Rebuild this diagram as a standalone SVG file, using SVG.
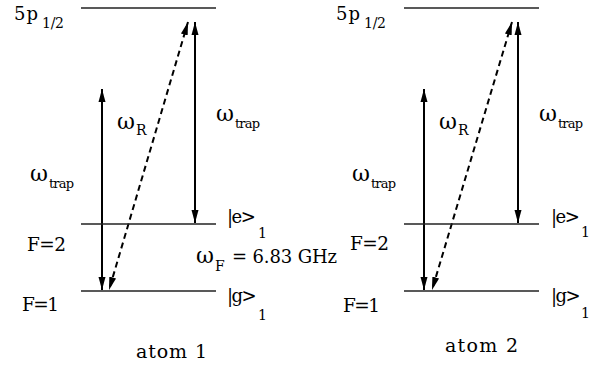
<svg xmlns="http://www.w3.org/2000/svg" width="603" height="366" viewBox="0 0 603 366" font-family="DejaVu Serif, serif">
<style>
text{font-family:"DejaVu Serif",serif;fill:#000}
.w{font-size:22px}
.s{font-size:13px}
.b{font-size:18.5px}
.k{font-size:18px;letter-spacing:-1.5px}
.n{font-size:14px}
.lvl{stroke:#222;stroke-width:1.5;fill:none}
.ar{stroke:#000;stroke-width:2;fill:none}
.da{stroke:#000;stroke-width:2;fill:none;stroke-dasharray:6,4}
</style>
<defs>
<marker id="h" markerUnits="userSpaceOnUse" markerWidth="14" markerHeight="10" viewBox="0 0 14 10" refX="13" refY="5" orient="auto-start-reverse">
<path d="M0,1.5 L13,5 L0,8.5 Z" fill="#000"/>
</marker>
</defs>
<g id="connectors">
<line class="ar" x1="102" y1="89" x2="102" y2="290" marker-start="url(#h)" marker-end="url(#h)"/>
<line class="ar" x1="195" y1="22" x2="195" y2="223" marker-start="url(#h)" marker-end="url(#h)"/>
<line class="da" x1="188" y1="22" x2="109" y2="290" marker-start="url(#h)" marker-end="url(#h)"/>
<line class="ar" x1="424" y1="89" x2="424" y2="290" marker-start="url(#h)" marker-end="url(#h)"/>
<line class="ar" x1="518" y1="22" x2="518" y2="223" marker-start="url(#h)" marker-end="url(#h)"/>
<line class="da" x1="512" y1="22" x2="432" y2="290" marker-start="url(#h)" marker-end="url(#h)"/>
</g>
<g id="atom1">
<line class="lvl" x1="81" y1="8" x2="216" y2="8"/>
<line class="lvl" x1="81" y1="224" x2="216" y2="224"/>
<line class="lvl" x1="81" y1="291" x2="216" y2="291"/>
<text x="14" y="20" font-size="18" textLength="24">5p</text>
<text x="42" y="28" class="n" textLength="22">1/2</text>
<text class="w" x="117" y="129">ω<tspan class="n" dx="1" dy="6">R</tspan></text>
<text class="w" x="216" y="121">ω<tspan class="s" dx="1" dy="7" textLength="25">trap</tspan></text>
<text class="w" x="30" y="181">ω<tspan class="s" dx="1" dy="7" textLength="25">trap</tspan></text>
<text class="b" x="27" y="251" textLength="39">F=2</text>
<text class="b" x="22" y="311" textLength="37">F=1</text>
<text class="k" x="227" y="223">|e&gt;</text><text class="n" x="258" y="238">1</text>
<text class="k" x="227" y="302">|g&gt;</text><text class="n" x="258" y="320">1</text>
<text class="w" x="196" y="263">ω<tspan class="n" dx="1" dy="8">F</tspan></text>
<text x="232" y="263" font-size="18" textLength="105">= 6.83 GHz</text>
<text x="136" y="358" font-size="19" textLength="71">atom 1</text>
</g>
<g id="atom2">
<line class="lvl" x1="404" y1="8" x2="539" y2="8"/>
<line class="lvl" x1="404" y1="224" x2="539" y2="224"/>
<line class="lvl" x1="404" y1="291" x2="539" y2="291"/>
<text x="336" y="20" font-size="18" textLength="24">5p</text>
<text x="364" y="28" class="n" textLength="22">1/2</text>
<text class="w" x="439" y="129">ω<tspan class="n" dx="1" dy="6">R</tspan></text>
<text class="w" x="539" y="121">ω<tspan class="s" dx="1" dy="7" textLength="25">trap</tspan></text>
<text class="w" x="352" y="181">ω<tspan class="s" dx="1" dy="7" textLength="25">trap</tspan></text>
<text class="b" x="350" y="250" textLength="39">F=2</text>
<text class="b" x="343" y="312" textLength="37">F=1</text>
<text class="k" x="551" y="223">|e&gt;</text><text class="n" x="581" y="237">1</text>
<text class="k" x="551" y="302">|g&gt;</text><text class="n" x="581" y="318">1</text>
<text x="445" y="352" font-size="19" textLength="73">atom 2</text>
</g>
</svg>
